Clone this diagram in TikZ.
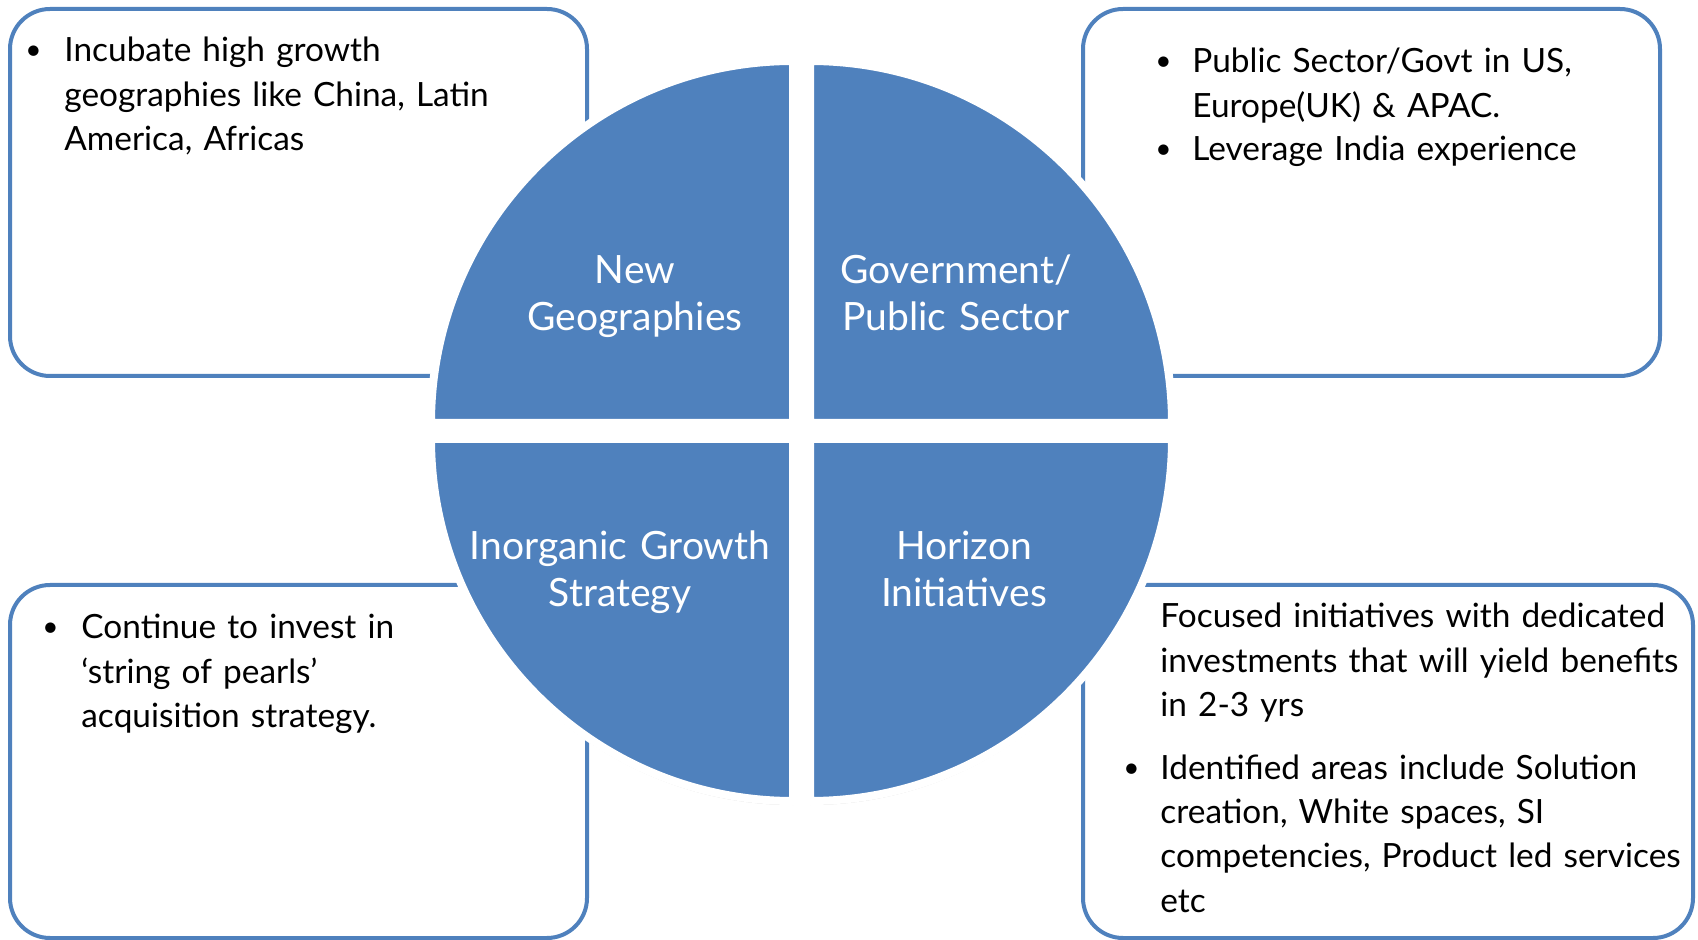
\documentclass[tikz,border=0pt]{standalone}
\usepackage{fontspec}
\setmainfont{Lato}
\usetikzlibrary{shadows}
\definecolor{pieblue}{HTML}{4F81BD}
\tikzset{
  quadrant/.style={fill=pieblue, draw=white, line width=4pt,
    drop shadow={opacity=0.35, shadow xshift=0pt, shadow yshift=-2pt}},
  infobox/.style={draw=pieblue, line width=2pt, rounded corners=20pt, fill=white},
  boxtext/.style={anchor=base west, inner sep=0pt, align=left, text width=300pt,
    font=\fontsize{16.7}{22.2}\selectfont},
  bul/.style={anchor=base west, inner sep=0pt, font=\fontsize{14}{22.2}\selectfont},
  lbl/.style={anchor=base, inner sep=0pt, align=center, text width=180pt, text=white,
    font=\fontsize{19.5}{23.3}\selectfont},
}

\begin{document}
\begin{tikzpicture}[x=0.5pt, y=-0.5pt]
      \useasboundingbox (0,0) rectangle (1698,940);

      % the four text boxes
      \draw [infobox] (10,9)    rectangle (587,376);
      \draw [infobox] (1083,9)  rectangle (1660,376);
      \draw [infobox] (10,585)  rectangle (587,938);
      \draw [infobox] (1083,585) rectangle (1693,938);

      \node [bul]      (tlbul)  at (25,60)  {\textbullet};
      \node [boxtext]  (tltxt)  at (64,62)  {Incubate high growth\\geographies like China, Latin\\America, Africas};

      \node [bul]      (trbul)  at (1155,71) {\textbullet};
      \node [boxtext]  (trtxt)  at (1192,73) {Public Sector/Govt in US,\\Europe(UK) \& APAC.};
      \node [bul]      (trbulb) at (1155,159) {\textbullet};
      \node [boxtext]  (trtxtb) at (1192,161) {Leverage India experience};

      \node [bul]      (blbul)  at (42,637) {\textbullet};
      \node [boxtext]  (bltxt)  at (81,639) {Continue to invest in\\‘string of pearls’\\acquisition strategy.};

      \node [boxtext]  (brtxt)  at (1160,628) {Focused initiatives with dedicated\\investments that will yield benefits\\in 2-3 yrs};
      \node [bul]      (brbul)  at (1123,777) {\textbullet};
      \node [boxtext]  (brtxtb) at (1160,779) {Identified areas include Solution\\creation, White spaces, SI\\competencies, Product led services\\etc};

      % the circle, in four pieces
      \path [quadrant] (793,423) -- ++(-362,0) arc [start angle=180, end angle=270, radius=362] -- cycle;
      \path [quadrant] (810,423) -- ++(0,-362) arc [start angle=270, end angle=360, radius=362] -- cycle;
      \path [quadrant] (810,439) -- ++(362,0)  arc [start angle=0,   end angle=90,  radius=362] -- cycle;
      \path [quadrant] (793,439) -- ++(0,362)  arc [start angle=90,  end angle=180, radius=362] -- cycle;

      \node [lbl] (geo)  at (635,284) {New\\Geographies};
      \node [lbl] (gov)  at (956,284) {Government/\\Public Sector};
      \node [lbl] (inorg) at (620,560) {Inorganic Growth\\Strategy};
      \node [lbl] (hor)  at (964,560) {Horizon\\Initiatives};
\end{tikzpicture}
\end{document}
